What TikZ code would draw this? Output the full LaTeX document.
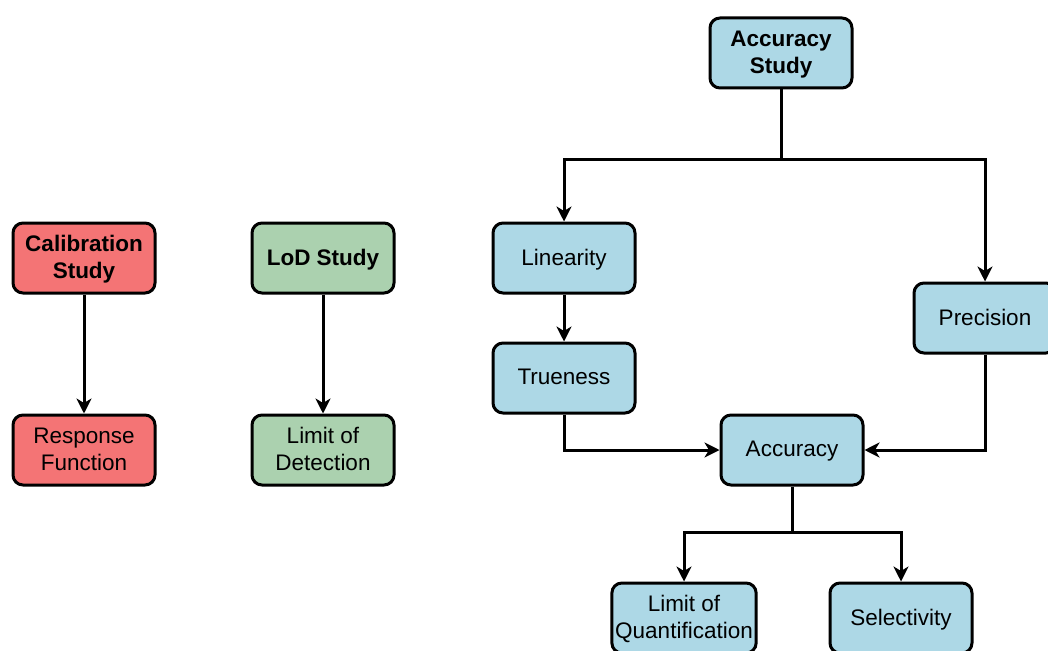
\documentclass[tikz,border=0pt]{standalone}
\usepackage{fontspec}
\setmainfont{Liberation Sans}
\usetikzlibrary{arrows.meta}
\definecolor{boxblue}{RGB}{173,216,230}
\definecolor{boxred}{RGB}{244,116,117}
\definecolor{boxgreen}{RGB}{171,209,175}
\begin{document}
\begin{tikzpicture}[x=1pt, y=-1pt, >={Stealth[length=15pt,width=15pt,inset=4.5pt]},
    box/.style={draw, line width=3pt, rounded corners=10pt, minimum width=142pt,
        minimum height=70pt, align=center, font=\fontsize{22.5}{27}\selectfont, text depth=2pt},
    link/.style={->, line width=3pt}]
    \useasboundingbox (0,0) rectangle (1048,650);
    \clip (0,0) rectangle (1048,650);

    \node[box, fill=boxblue, font=\fontsize{22.5}{27}\selectfont\bfseries] (accStudy) at (781,53) {Accuracy\\Study};
    \node[box, fill=boxred, font=\fontsize{22.5}{27}\selectfont\bfseries] (calib) at (84,258) {Calibration\\Study};
    \node[box, fill=boxgreen, font=\fontsize{22.5}{27}\selectfont\bfseries] (lodStudy) at (323,258) {LoD Study};
    \node[box, fill=boxred] (resp) at (84,450) {Response\\Function};
    \node[box, fill=boxgreen] (lodet) at (323,450) {Limit of\\Detection};

    \node[box, fill=boxblue] (lin) at (564,258) {Linearity};
    \node[box, fill=boxblue] (true) at (564,378) {Trueness};
    \node[box, fill=boxblue] (prec) at (985,318) {Precision};
    \node[box, fill=boxblue] (acc) at (792,450) {Accuracy};
    \node[box, fill=boxblue] (loq) at (684,618) {Limit of\\Quantification};
    \node[box, fill=boxblue] (sel) at (901,618) {Selectivity};

    \draw[link] (calib) -- (resp);
    \draw[link] (lodStudy) -- (lodet);
    \draw[link] (accStudy.south) -- ++(0,70) -| (lin.north);
    \draw[link] (accStudy.south) -- ++(0,70) -| (prec.north);
    \draw[link] (lin) -- (true);
    \draw[link] (true.south) |- (acc.west);
    \draw[link] (prec.south) |- (acc.east);
    \draw[link] (acc.south) -- ++(0,46) -| (loq.north);
    \draw[link] (acc.south) -- ++(0,46) -| (sel.north);
\end{tikzpicture}
\end{document}
